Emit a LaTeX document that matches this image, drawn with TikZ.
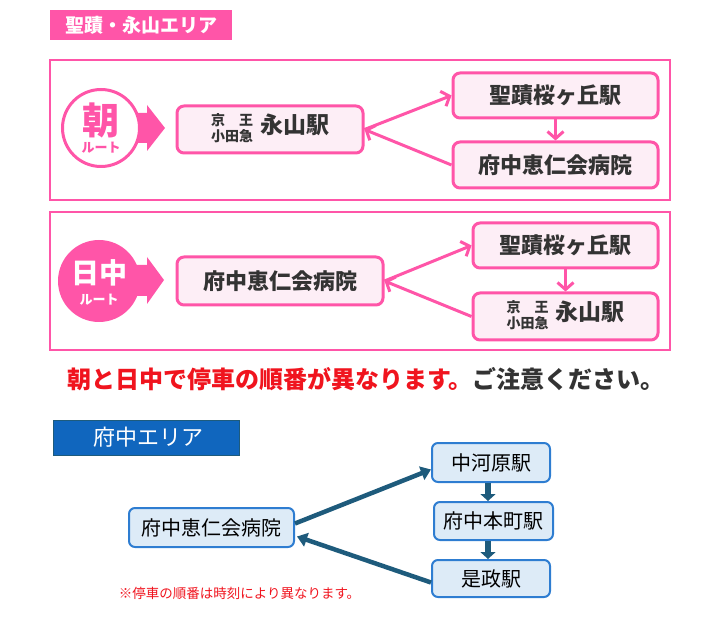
\documentclass[tikz,border=0pt]{standalone}
\usepackage{fontspec}
\setmainfont{Noto Sans CJK JP}
\usetikzlibrary{arrows.meta,calc}
\definecolor{hotpink}{HTML}{FF55A8}
\definecolor{palepink}{HTML}{FDEEF6}
\definecolor{areablue}{HTML}{1066BE}
\definecolor{paleblue}{HTML}{DDEBF7}
\definecolor{edgeblue}{HTML}{2E7DD1}
\definecolor{arrowblue}{HTML}{1E5B7C}
\definecolor{darktext}{HTML}{333333}
\definecolor{alertred}{HTML}{F0141E}
\newcommand\jpsize[1]{\fontsize{#1}{#1}\selectfont}
\tikzset{
  pinkbox/.style={draw=hotpink, line width=3pt, fill=palepink, rounded corners=7pt,
    text=darktext, font=\jpsize{22}\bfseries, inner sep=0pt},
  bluebox/.style={draw=edgeblue, line width=2pt, fill=paleblue, rounded corners=6pt,
    text=black, font=\jpsize{20}, inner sep=0pt},
  parrow/.style={draw=hotpink, line width=3pt, -{Straight Barb[length=7pt,width=16pt]}},
  barrow/.style={draw=arrowblue, line width=4.5pt, -{Triangle[length=10pt,width=14pt]}},
  bdown/.style={draw=arrowblue, line width=6pt, -{Triangle[length=7pt,width=15pt]}}
}
\newcommand\keiou{{\jpsize{14}\begin{tabular}{@{}c@{}}京\hspace{1em}王\\[-1pt]小田急\end{tabular}}\hspace{7pt}{\jpsize{23}永山駅}}
\begin{document}
\begin{tikzpicture}[x=1pt,y=-1pt]
\useasboundingbox (0,0) rectangle (710,620);
\node [fill=hotpink, minimum width=182pt, minimum height=30pt, text=white,
  font=\jpsize{19}\bfseries] (areaA) at (141,25) {聖蹟・永山エリア};
\draw [hotpink, line width=1.2pt] (50,60) rectangle (670,200);
\draw [hotpink, line width=1.2pt] (50,212) rectangle (670,350);

\fill [hotpink] (128,113) -- (147,113) -- (147,105) -- (165,128) -- (147,151) -- (147,143) -- (128,143) -- cycle;
\node [circle, draw=hotpink, line width=3pt, fill=white, minimum size=77pt] (asa) at (101,128) {};
\node [text=hotpink, font=\jpsize{37}\bfseries] (asaT) at (101,120) {朝};
\node [text=hotpink, font=\jpsize{13}\bfseries] (asaR) at (101,148) {ルート};
\node [pinkbox, minimum width=186pt, minimum height=47pt] (nag1) at (270,129.5) {\keiou};
\node [pinkbox, minimum width=205pt, minimum height=45pt] (sei1) at (555.5,95.5) {聖蹟桜ヶ丘駅};
\node [pinkbox, minimum width=205pt, minimum height=46pt] (kei1) at (555.5,165) {府中恵仁会病院};
\draw [parrow] (nag1.east) -- (sei1.west);
\draw [parrow] (sei1.south) -- (kei1.north);
\draw [parrow] (kei1.west) -- (nag1.east);

\fill [hotpink] (128,265) -- (147,265) -- (147,257) -- (164,280) -- (147,304) -- (147,296) -- (128,296) -- cycle;
\node [circle, fill=hotpink, minimum size=82pt] (hiru) at (99,281) {};
\node [text=white, font=\jpsize{28}\bfseries] (hiruT) at (99,273) {日中};
\node [text=white, font=\jpsize{13}\bfseries] (hiruR) at (99,300) {ルート};
\node [pinkbox, minimum width=206pt, minimum height=48pt] (kei2) at (280,281) {府中恵仁会病院};
\node [pinkbox, minimum width=185pt, minimum height=45pt] (sei2) at (565.5,245.5) {聖蹟桜ヶ丘駅};
\node [pinkbox, minimum width=185pt, minimum height=47pt] (nag2) at (565.5,316.5) {\keiou};
\draw [parrow] (kei2.east) -- (sei2.west);
\draw [parrow] (sei2.south) -- (nag2.north);
\draw [parrow] (nag2.west) -- (kei2.east);

\node [font=\jpsize{24}\bfseries] (notice) at (366,379)
  {\textcolor{alertred}{朝と日中で停車の順番が異なります。}\textcolor{darktext}{ご注意ください。}};

\node [fill=areablue, draw=arrowblue, minimum width=186pt, minimum height=35pt, text=white,
  font=\jpsize{22}] (areaB) at (146,437.5) {\hspace{4pt}府中エリア};
\node [bluebox, minimum width=165pt, minimum height=39pt] (kei3) at (211.5,527.5) {府中恵仁会病院};
\node [bluebox, minimum width=118pt, minimum height=39pt] (naka) at (491,462.5) {中河原駅};
\node [bluebox, minimum width=119pt, minimum height=38pt] (honm) at (493.5,521) {府中本町駅};
\node [bluebox, minimum width=118pt, minimum height=37pt] (kore) at (491,578.5) {是政駅};
\draw [barrow] ($(kei3.east)+(0,-4)$) -- ($(naka.west)+(0,7)$);
\draw [barrow] ($(kore.west)+(0,4)$) -- ($(kei3.east)+(2,9)$);
\draw [bdown] ($(naka.south)+(-3,0)$) -- ($(honm.north)+(-5.5,0)$);
\draw [bdown] ($(honm.south)+(-5.5,0)$) -- ($(kore.north)+(-3,0)$);
\node [text=alertred, font=\jpsize{13.5}] (memo) at (239.5,593) {※停車の順番は時刻により異なります。};
\end{tikzpicture}
\end{document}
